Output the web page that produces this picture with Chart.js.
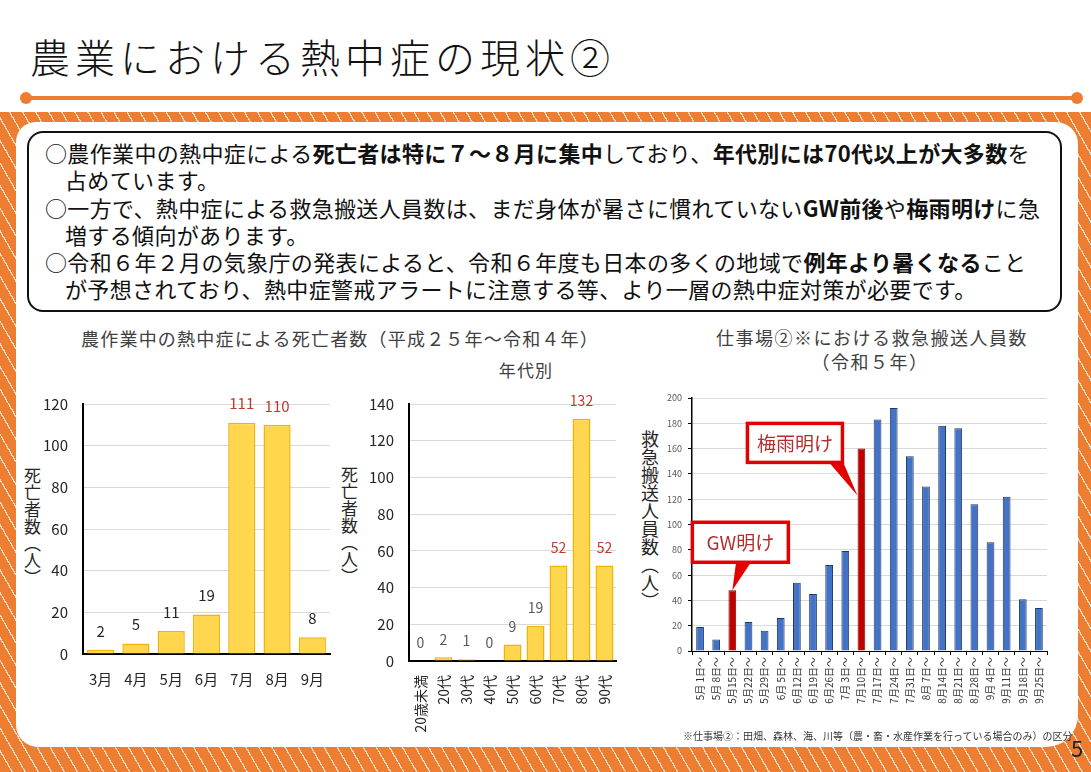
<!DOCTYPE html>
<html lang="ja">
<head>
<meta charset="utf-8">
<script src="https://cdn.jsdelivr.net/npm/chart.js@4.4.1/dist/chart.umd.min.js"></script>
<style>
  html, body { margin: 0; padding: 0; background: #fff; }
  body { width: 1091px; height: 772px; position: relative; overflow: hidden;
         font-family: "Noto Sans CJK JP", "Noto Sans", sans-serif; color: #222; }
  .abs { position: absolute; }
  #title { left: 30px; top: 36px; font-size: 40px; font-weight: 300; letter-spacing: 5px; line-height: 1; color: #111; white-space: nowrap; }
  #rule { left: 26px; top: 96px; width: 1051px; height: 4px; background: #ED7D31; }
  .dot { top: 92px; width: 12px; height: 12px; border-radius: 50%; background: #ED7D31; }
  #band { left: 0; top: 112px; width: 1091px; height: 660px;
          background: repeating-linear-gradient(60deg, #ED7D31 0 10px, #F9D9BF 10px 11.3px); }
  #panel { left: 16px; top: 122px; width: 1062px; height: 625px; background: #fff; border-radius: 20px 22px 32px 22px; }
  #box { left: 27px; top: 131px; width: 1031px; height: 177px; border: 2px solid #111; border-radius: 16px; }
  .line { left: 45px; font-size: 22px; line-height: 27px; letter-spacing: 0.35px; white-space: nowrap; color: #111; }
  .line.ind { left: 65px; }
  b { font-weight: 700; }
  .ctitle { font-size: 18px; letter-spacing: 1.2px; color: #404040; white-space: nowrap; transform: translateX(-50%); line-height: 1; }
  .vtitle { writing-mode: vertical-rl; font-size: 17px; color: #262626; line-height: 1; white-space: nowrap; }
  #note { left: 683px; top: 731px; font-size: 10px; color: #333; white-space: nowrap; line-height: 1; }
  #page { left: 1071px; top: 736px; font-size: 22px; color: #222; line-height: 1; }
  canvas { position: absolute; }
</style>
</head>
<body>
<div id="title" class="abs">農業における熱中症の現状②</div>
<div id="rule" class="abs"></div>
<div class="abs dot" style="left:20px"></div>
<div class="abs dot" style="left:1071px"></div>
<div id="band" class="abs"></div>
<div id="panel" class="abs"></div>
<div id="box" class="abs"></div>

<div class="abs line" style="top:139px">○農作業中の熱中症による<b>死亡者は特に７～８月に集中</b>しており、<b>年代別には70代以上が大多数</b>を</div>
<div class="abs line ind" style="top:166px">占めています。</div>
<div class="abs line" style="top:194px">○一方で、熱中症による救急搬送人員数は、まだ身体が暑さに慣れていない<b>GW前後</b>や<b>梅雨明け</b>に急</div>
<div class="abs line ind" style="top:221px">増する傾向があります。</div>
<div class="abs line" style="top:248px">○令和６年２月の気象庁の発表によると、令和６年度も日本の多くの地域で<b>例年より暑くなる</b>こと</div>
<div class="abs line ind" style="top:275px">が予想されており、熱中症警戒アラートに注意する等、より一層の熱中症対策が必要です。</div>

<div class="abs ctitle" style="left:340px; top:329px">農作業中の熱中症による死亡者数（平成２５年～令和４年）</div>
<div class="abs ctitle" style="left:526px; top:361px; font-size:17px">年代別</div>
<div class="abs ctitle" style="left:872px; top:328px; letter-spacing:1.5px">仕事場②※における救急搬送人員数</div>
<div class="abs ctitle" style="left:870px; top:352px; letter-spacing:1.5px">（令和５年）</div>

<div class="abs vtitle" style="left:24px; top:467px">死亡者数（人）</div>
<div class="abs vtitle" style="left:341px; top:466px">死亡者数（人）</div>
<div class="abs vtitle" style="left:641px; top:430px; font-size:18px">救急搬送人員数（人）</div>

<canvas id="c1" width="320" height="310" style="left:20px; top:380px"></canvas>
<canvas id="c2" width="290" height="370" style="left:340px; top:380px"></canvas>
<canvas id="c3" width="420" height="345" style="left:640px; top:385px"></canvas>

<div id="note" class="abs">※仕事場②：田畑、森林、海、川等（農・畜・水産作業を行っている場合のみ）の区分</div>
<div id="page" class="abs">5</div>

<script>
// 月別 死亡者数（平成25年～令和4年）
const months = ['3月', '4月', '5月', '6月', '7月', '8月', '9月'];
const deathsByMonth = [2, 5, 11, 19, 111, 110, 8];
const monthHighlight = ['7月', '8月'];

// 年代別 死亡者数
const ageGroups = ['20歳未満', '20代', '30代', '40代', '50代', '60代', '70代', '80代', '90代'];
const deathsByAge = [0, 2, 1, 0, 9, 19, 52, 132, 52];
const ageHighlight = ['70代', '80代', '90代'];

// 仕事場② 救急搬送人員数（令和5年）
const weeks = ['5月 1日～', '5月 8日～', '5月15日～', '5月22日～', '5月29日～', '6月 5日～',
  '6月12日～', '6月19日～', '6月26日～', '7月 3日～', '7月10日～', '7月17日～', '7月24日～',
  '7月31日～', '8月 7日～', '8月14日～', '8月21日～', '8月28日～', '9月 4日～', '9月11日～',
  '9月18日～', '9月25日～'];
const transports = [19, 9, 48, 23, 16, 26, 54, 45, 68, 79, 160, 183, 192, 154, 130, 178, 176, 116, 86, 122, 41, 34];
const weekHighlight = ['5月15日～', '7月10日～'];

// 吹き出し
const calloutTexts = ['GW明け', '梅雨明け'];
const calloutWeeks = ['5月15日～', '7月10日～'];
const calloutTips = [48, 123];

Chart.defaults.font.family = '"Noto Sans CJK JP", "Noto Sans", sans-serif';
Chart.defaults.animation = false;

const RED_TEXT = '#C0392B';

function valueLabels(highlight, color, size, gap) {
  return {
    id: 'valueLabels',
    afterDatasetsDraw(chart) {
      const ctx = chart.ctx;
      const labels = chart.data.labels;
      const values = chart.data.datasets[0].data;
      ctx.save();
      ctx.font = size + 'px "Noto Sans CJK JP"';
      ctx.textAlign = 'center';
      ctx.textBaseline = 'middle';
      chart.getDatasetMeta(0).data.forEach((bar, i) => {
        ctx.fillStyle = highlight.includes(labels[i]) ? RED_TEXT : color;
        ctx.fillText(String(values[i]), bar.x, bar.y - gap);
      });
      ctx.restore();
    }
  };
}

function fixSize(w) { return scale => { scale.width = w; }; }
function fixHeight(h) { return scale => { scale.height = h; }; }

// chart 1
new Chart(document.getElementById('c1'), {
  type: 'bar',
  data: {
    labels: months,
    datasets: [{
      data: deathsByMonth,
      backgroundColor: '#FFD64D',
      borderColor: '#F2B400',
      borderWidth: 1.5,
      barPercentage: 0.77,
      categoryPercentage: 1
    }]
  },
  options: {
    responsive: false,
    layout: { padding: { top: 23, right: 10 } },
    plugins: { legend: { display: false }, tooltip: { enabled: false } },
    scales: {
      x: {
        grid: { display: false },
        border: { color: '#000', width: 2 },
        ticks: { color: '#262626', font: { size: 15 }, padding: 8 },
        afterFit: fixHeight(36)
      },
      y: {
        min: 0, max: 120,
        ticks: { stepSize: 20, color: '#262626', font: { size: 15 }, padding: 15 },
        grid: { color: '#D9D9D9', drawTicks: false },
        border: { color: '#000', width: 2 },
        afterFit: fixSize(63)
      }
    }
  },
  plugins: [valueLabels(monthHighlight, '#262626', 15, 19)]
});

// chart 2
new Chart(document.getElementById('c2'), {
  type: 'bar',
  data: {
    labels: ageGroups,
    datasets: [{
      data: deathsByAge,
      backgroundColor: '#FFD64D',
      borderColor: '#F2B400',
      borderWidth: 1.5,
      barPercentage: 0.78,
      categoryPercentage: 1
    }]
  },
  options: {
    responsive: false,
    layout: { padding: { top: 20, right: 14 } },
    plugins: { legend: { display: false }, tooltip: { enabled: false } },
    scales: {
      x: {
        grid: { display: false },
        border: { color: '#000', width: 2 },
        ticks: { color: '#262626', font: { size: 14 }, padding: 6, minRotation: 90, maxRotation: 90, autoSkip: false },
        afterFit: fixHeight(89)
      },
      y: {
        min: 0, max: 140,
        ticks: { stepSize: 20, color: '#262626', font: { size: 15 }, padding: 15 },
        grid: { color: '#D9D9D9', drawTicks: false },
        border: { color: '#000', width: 2 },
        afterFit: fixSize(69)
      }
    }
  },
  plugins: [valueLabels(ageHighlight, '#595959', 14, 18)]
});

// chart 3
const calloutBoxes = [
  { dx: -40, dy: -68, w: 96, h: 40, from: 44, to: 60, tipDx: 0 },
  { dx: -110, dy: -72, w: 95, h: 39, from: 80, to: 95, tipDx: -4 }
];

const calloutPlugin = {
  id: 'callouts',
  afterDatasetsDraw(chart) {
    const { ctx, scales: { x, y } } = chart;
    ctx.save();
    calloutTexts.forEach((text, i) => {
      const b = calloutBoxes[i];
      const tx = x.getPixelForValue(weeks.indexOf(calloutWeeks[i])) + b.tipDx;
      const ty = y.getPixelForValue(calloutTips[i]);
      const bx = tx + b.dx, by = ty + b.dy;
      ctx.fillStyle = '#E50000';
      ctx.beginPath();
      ctx.moveTo(bx + b.from, by + b.h - 2);
      ctx.lineTo(bx + b.to, by + b.h - 2);
      ctx.lineTo(tx, ty);
      ctx.closePath();
      ctx.fill();
      ctx.fillStyle = '#fff';
      ctx.fillRect(bx, by, b.w, b.h);
      ctx.strokeStyle = '#E50000';
      ctx.lineWidth = 3.5;
      ctx.strokeRect(bx, by, b.w, b.h);
      ctx.fillStyle = '#B03030';
      ctx.font = '19px "Noto Sans CJK JP"';
      ctx.textAlign = 'center';
      ctx.textBaseline = 'middle';
      ctx.fillText(text, bx + b.w / 2, by + b.h / 2 + 1);
    });
    ctx.restore();
  }
};

new Chart(document.getElementById('c3'), {
  type: 'bar',
  data: {
    labels: weeks,
    datasets: [{
      data: transports,
      backgroundColor: weeks.map(w => weekHighlight.includes(w) ? '#C00000' : '#4472C4'),
      borderColor: weeks.map(w => weekHighlight.includes(w) ? '#7A0000' : '#1F3864'),
      borderWidth: 1,
      barPercentage: 0.48,
      categoryPercentage: 1
    }]
  },
  options: {
    responsive: false,
    layout: { padding: { top: 13, right: 13 } },
    plugins: { legend: { display: false }, tooltip: { enabled: false } },
    scales: {
      x: {
        grid: { drawOnChartArea: false, drawTicks: true, tickLength: 4, tickColor: '#000' },
        border: { color: '#000', width: 1 },
        ticks: { color: '#333', font: { size: 10 }, padding: 2, minRotation: 90, maxRotation: 90, autoSkip: false },
        afterFit: fixHeight(79)
      },
      y: {
        min: 0, max: 200,
        ticks: { stepSize: 20, color: '#595959', font: { size: 9 }, padding: 6 },
        grid: { color: '#D9D9D9', tickLength: 4, tickColor: '#000' },
        border: { color: '#000', width: 1.5 },
        afterFit: fixSize(52)
      }
    }
  },
  plugins: [calloutPlugin]
});
</script>
</body>
</html>
